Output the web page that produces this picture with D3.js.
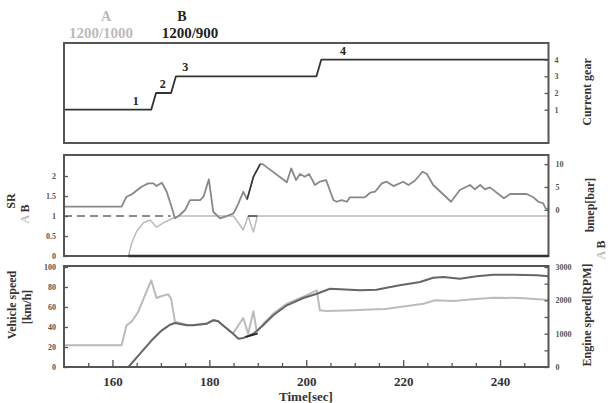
<!DOCTYPE html>
<html><head><meta charset="utf-8">
<script src="https://cdn.jsdelivr.net/npm/d3@7"></script>
<style>body{margin:0;background:#fff}svg{display:block}text{font-family:"Liberation Serif","Times New Roman",serif;font-weight:bold}</style>
</head><body>
<svg id="c" width="608" height="403"></svg>
<script>
// ---- data ----
const timeTicksMajor = [160, 180, 200, 220, 240];
const gearTicks = [1, 2, 3, 4];
const srTicks = [0, 0.5, 1, 1.5, 2];
const bmepTicks = [0, 5, 10];
const speedTicks = [0, 20, 40, 60, 80, 100];
const rpmTicks = [0, 500, 1000, 1500, 2000, 2500, 3000];

const gear = [[150,1],[168,1],[169,2],[172.1,2],[173.1,3],[202.1,3],[203.1,4],[250,4]];
const gearLabels = [[164.8,"1",1],[170.4,"2",2],[175,"3",3],[207.6,"4",4]];

const bmep = [[150,0.68],[161.9,0.68],[162.9,2.87],[164,3.39],[166,5.05],[167.4,5.8],[168.4,5.8],[169.1,5.2],[170.2,5.93],[171.2,3.96],[172.2,0.68],[172.9,-1.86],[173.9,-1.14],[175,-0.04],[176,2.14],[178.1,2.14],[178.8,2.87],[179.9,6.67],[180.8,-0.42],[182.2,-1.86],[183.6,-1.36],[185,-0.77],[186,1.42],[187,3.96],[187.8,2.3],[189.1,7.24],[190.5,10.0],[191,10.0],[196,6.02],[196.9,9.08],[197.9,6.52],[198.7,7.83],[199.7,7.24],[200.6,7.83],[201.8,5.43],[202.8,6.15],[204.1,6.52],[205.6,2.14],[206.3,1.77],[207.3,2.14],[208.4,1.77],[209,2.74],[212.1,2.74],[213.2,3.74],[214.2,3.96],[215.6,5.8],[216.6,6.15],[218,5.2],[220,6.15],[221.1,5.43],[222.4,6.37],[224,8.34],[224.9,7.83],[226.2,5.43],[229.9,1.77],[231.7,4.33],[233.8,5.43],[234.8,4.49],[235.9,5.43],[236.9,4.49],[237.9,4.92],[240.8,2.52],[242.1,3.46],[245.5,3.46],[246.9,2.74],[247.9,1.77],[248.9,1.42],[249.4,0.33],[250,0.2]];
const bmepB = [[187.8,2.3],[189.1,7.24],[190.5,10.0]];

const srA = [[150,0],[163.3,0],[164,0.33],[165,0.62],[166.4,0.83],[167.8,0.9],[169.1,0.72],[170.5,0.83],[172.9,0.97],[174,1],[185,1],[187,0.65],[188,1],[189.1,0.6],[189.9,1],[250,1]];
const srB0 = [[163.3,0],[250,0]];
const srBdash = [[150,1],[172,1]];
const srBseg = [[188,1],[189.9,1]];

const engineA = [[150,650],[161.9,650],[162.9,1250],[164,1370],[165.3,1650],[166.7,2150],[168,2600],[169.1,2070],[170.2,2130],[171.5,2180],[172.1,2050],[172.9,1360],[175.3,1270],[176.7,1260],[179.5,1310],[180.8,1410],[181.8,1380],[183.2,1210],[184.9,1010],[187,1470],[188,1000],[189.1,1670],[189.8,1050],[191.1,1290],[193.2,1600],[196,1900],[199.4,2110],[202.2,2300],[202.8,1700],[204.2,1680],[209.7,1700],[214.5,1730],[216.3,1740],[219.3,1800],[224.2,1900],[226.6,2000],[230.4,1980],[234.5,2030],[238.6,2080],[244.1,2070],[249.4,2020],[250,2010]];
const vehicle = [[163.3,0],[165.7,13.3],[168.1,26.7],[170.2,36.7],[171.9,42.3],[172.9,44],[175.3,41.7],[176.7,41.7],[179.5,43.3],[180.8,46.7],[181.8,45.7],[183.2,40],[184.9,33.3],[186,28.3],[187,29],[189.1,33.3],[191.1,41.7],[193.2,51.7],[196,61.7],[199.4,69],[202.2,73.3],[204.9,78.3],[207,77.7],[211.1,76.7],[214.5,77.3],[216.3,79],[219.3,81.7],[223.5,85],[226.2,89.3],[228.3,90],[231.7,88.3],[235.2,90.7],[238.6,92.3],[242.7,92.3],[247.6,91.7],[250,90.7]];
const vehicleB = [[187.5,30],[190,33.5]];

// ---- scales ----
const L = 64, R = 548.5;
const x = d3.scaleLinear().domain([150,250]).range([L,R]);
const P1 = {t:43, b:143}, P2 = {t:155, b:256}, P3 = {t:266, b:367};
const yG = d3.scaleLinear().domain([-1,5]).range([P1.b,P1.t]);
const ySR = d3.scaleLinear().domain([0,2.5]).range([P2.b,P2.t+1]);
const yBm = d3.scaleLinear().domain([-10,12]).range([255.5,155]);
const yV = d3.scaleLinear().domain([0,100]).range([P3.b,P3.t+1]);
const yE = d3.scaleLinear().domain([0,3000]).range([P3.b,P3.t+1]);

const svg = d3.select("#c");
const line = (ys) => d3.line().x(d=>x(d[0])).y(d=>ys(d[1]));
function path(data, ys, stroke, w, dash){
  const p = svg.append("path").attr("d", line(ys)(data)).attr("fill","none")
    .attr("stroke",stroke).attr("stroke-width",w).attr("stroke-linejoin","round");
  if(dash) p.attr("stroke-dasharray",dash);
  return p;
}
function frame(P){
  svg.append("rect").attr("x",L).attr("y",P.t).attr("width",R-L).attr("height",P.b-P.t)
    .attr("fill","none").attr("stroke","#555").attr("stroke-width",2);
}
const tickCol = "#555";

// ---- top labels ----
svg.append("text").attr("x",106).attr("y",21).attr("text-anchor","middle").attr("font-size",14).attr("fill","#bbb").text("A");
svg.append("text").attr("x",101).attr("y",38).attr("text-anchor","middle").attr("font-size",15).attr("fill","#bbb").text("1200/1000");
svg.append("text").attr("x",182).attr("y",21).attr("text-anchor","middle").attr("font-size",14).attr("fill","#222").text("B");
svg.append("text").attr("x",190).attr("y",38).attr("text-anchor","middle").attr("font-size",15).attr("fill","#222").text("1200/900");

// ---- panel 1: gear ----
path(gear, yG, "#333", 1.8);
gearLabels.forEach(g=>{
  svg.append("text").attr("x",x(g[0])).attr("y",yG(g[2])-5).attr("text-anchor","middle")
    .attr("font-size",12).attr("fill","#222").text(g[1]);
});
frame(P1);
svg.append("g").attr("transform",`translate(${R},0)`)
  .call(d3.axisRight(yG).tickValues(gearTicks).tickSize(-4).tickPadding(6).tickFormat(d3.format("d")));
// ---- panel 2 ----
path(srBdash, ySR, "#666", 1.4, "8,5");
path(srA, ySR, "#bbb", 1.5);
path(bmep, yBm, "#888", 1.8);
path(bmepB, yBm, "#333", 1.4);
path(srBseg, ySR, "#444", 1.6);
frame(P2);
path(srB0, ySR, "#333", 2.4);
svg.append("g").attr("transform",`translate(${L},0)`)
  .call(d3.axisLeft(ySR).tickValues(srTicks).tickSize(-4).tickPadding(8).tickFormat(d=>d));
svg.append("g").attr("transform",`translate(${R},0)`)
  .call(d3.axisRight(yBm).tickValues(bmepTicks).tickSize(-4).tickPadding(7).tickFormat(d3.format("d")));

// ---- panel 3 ----
path(engineA, yE, "#bbb", 2);
path(vehicle, yV, "#666", 2);
path(vehicleB, yV, "#222", 1.8);
frame(P3);
svg.append("g").attr("transform",`translate(${L},0)`)
  .call(d3.axisLeft(yV).tickValues(speedTicks).tickSize(-4).tickPadding(8).tickFormat(d3.format("d")));
svg.append("g").attr("transform",`translate(${R},0)`)
  .call(d3.axisRight(yE).tickValues(rpmTicks).tickSize(-4).tickPadding(7)
  .tickFormat(d=> d%1000===0 ? d : ""));
// x axis
const minor = d3.range(155,250,5).filter(d=>!timeTicksMajor.includes(d));
svg.append("g").attr("transform",`translate(0,${P3.b})`)
  .call(d3.axisBottom(x).tickValues(minor).tickSize(-4).tickFormat(""));
svg.append("g").attr("class","xmaj").attr("transform",`translate(0,${P3.b})`)
  .call(d3.axisBottom(x).tickValues(timeTicksMajor).tickSize(-7).tickPadding(10).tickFormat(d3.format("d")));

svg.selectAll(".domain").remove();
svg.selectAll(".tick line").attr("stroke",tickCol).attr("stroke-width",1.3);
svg.selectAll(".tick text").attr("font-family",'"Liberation Serif",serif').attr("font-weight","bold")
  .attr("font-size",8).attr("fill","#555");
svg.selectAll(".xmaj .tick text").attr("font-size",13).attr("fill","#333");

// ---- axis titles ----
function vtext(xp, yp, str, size, fill){
  return svg.append("text").attr("transform",`translate(${xp},${yp}) rotate(-90)`)
    .attr("text-anchor","middle").attr("dominant-baseline","central")
    .attr("font-size",size).attr("fill",fill||"#333").text(str);
}
vtext(587, 92, "Current gear", 12);
vtext(590, 205, "bmep[bar]", 12);
const ab = svg.append("text").attr("transform",`translate(601,250) rotate(-90)`)
  .attr("text-anchor","middle").attr("dominant-baseline","central").attr("font-size",12);
ab.append("tspan").attr("fill","#bbb").text("A ");
ab.append("tspan").attr("fill","#333").text("B");
vtext(587, 315, "Engine speed[RPM]", 12);
vtext(11, 201, "SR", 12);
const ab2 = svg.append("text").attr("transform",`translate(25,214) rotate(-90)`)
  .attr("text-anchor","middle").attr("dominant-baseline","central").attr("font-size",12);
ab2.append("tspan").attr("fill","#bbb").text("A ");
ab2.append("tspan").attr("fill","#333").text("B");
vtext(12, 305, "Vehicle speed", 12);
vtext(27, 307, "[km/h]", 12);
svg.append("text").attr("x",306).attr("y",401).attr("text-anchor","middle").attr("font-size",13).attr("fill","#333").text("Time[sec]");
</script>
</body></html>
